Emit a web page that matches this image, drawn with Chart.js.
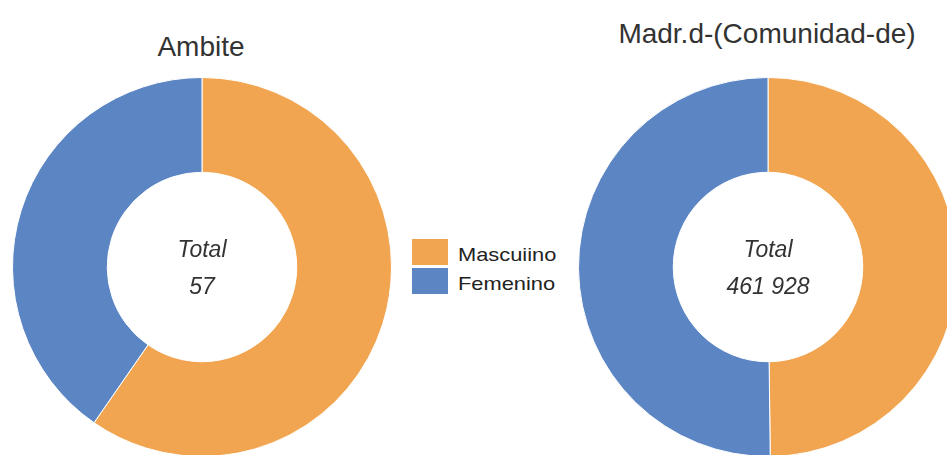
<!DOCTYPE html>
<html>
<head>
<meta charset="utf-8">
<title>Ambite / Madrid</title>
<script src="https://cdn.jsdelivr.net/npm/chart.js@4.4.1/dist/chart.umd.min.js"></script>
<style>
    html, body {
        margin: 0;
        padding: 0;
        width: 947px;
        height: 455px;
        overflow: hidden;
        background: #fff;
        font-family: "Liberation Sans", Arial, sans-serif;
    }
    .title {
        position: absolute;
        font-size: 28px;
        line-height: 28px;
        color: #333;
        white-space: nowrap;
        transform: translateX(-50%);
    }
    .chart {
        position: absolute;
        top: 77px;
        width: 380px;
        height: 380px;
    }
    #legend {
        position: absolute;
        left: 412px;
        top: 239px;
    }
    .legend-row {
        position: relative;
        height: 29px;
    }
    .legend-box {
        position: absolute;
        left: 0;
        top: 0;
        width: 36px;
        height: 26px;
    }
    .legend-label {
        position: absolute;
        left: 46px;
        top: 6px;
        font-size: 19px;
        line-height: 19px;
        color: #222;
        white-space: nowrap;
        transform: scaleX(1.15);
        transform-origin: left center;
    }
</style>
</head>
<body>

<div class="title" style="left:201px; top:33px;">Ambite</div>
<div class="title" style="left:767px; top:20px;">Madr.d-(Comunidad-de)</div>

<div class="chart" style="left:12px;"><canvas id="chartAmbite" width="380" height="380"></canvas></div>
<div class="chart" style="left:578px;"><canvas id="chartMadrid" width="380" height="380"></canvas></div>

<div id="legend"></div>

<script>
const categories = ["Mascuiino", "Femenino"];
const colors = ["#F2A550", "#5C85C4"];
const ambiteValues = [34, 23];
const madridValues = [230100, 231828];

function formatTotal(n) {
    return String(n).replace(/\B(?=(\d{3})+(?!\d))/g, " ");
}

// writes "Total" and the sum in the hole of the doughnut
const centerText = {
    id: "centerText",
    afterDraw(chart, args, opts) {
        const arc = chart.getDatasetMeta(0).data[0];
        if (!arc) return;
        const ctx = chart.ctx;
        ctx.save();
        ctx.font = 'italic 23px "Liberation Sans", Arial, sans-serif';
        ctx.fillStyle = "#333";
        ctx.textAlign = "center";
        ctx.textBaseline = "alphabetic";
        ctx.fillText("Total", arc.x, arc.y - 10);
        ctx.fillText(formatTotal(opts.total), arc.x, arc.y + 27);
        ctx.restore();
    }
};

function makeDoughnut(canvasId, values) {
    const total = values.reduce((a, b) => a + b, 0);
    return new Chart(document.getElementById(canvasId), {
        type: "doughnut",
        data: {
            labels: categories,
            datasets: [{
                data: values,
                backgroundColor: colors,
                borderColor: "#fff",
                borderWidth: 1
            }]
        },
        options: {
            responsive: false,
            animation: false,
            cutout: "50%",
            layout: { padding: 0 },
            plugins: {
                legend: { display: false },
                tooltip: { enabled: false },
                centerText: { total: total }
            }
        },
        plugins: [centerText]
    });
}

makeDoughnut("chartAmbite", ambiteValues);
makeDoughnut("chartMadrid", madridValues);

// shared legend between the two charts
const legendDiv = document.getElementById("legend");
categories.forEach((name, i) => {
    legendDiv.innerHTML += `
        <div class="legend-row">
            <div class="legend-box" style="background:${colors[i]}"></div>
            <div class="legend-label">${name}</div>
        </div>`;
});
</script>
</body>
</html>
